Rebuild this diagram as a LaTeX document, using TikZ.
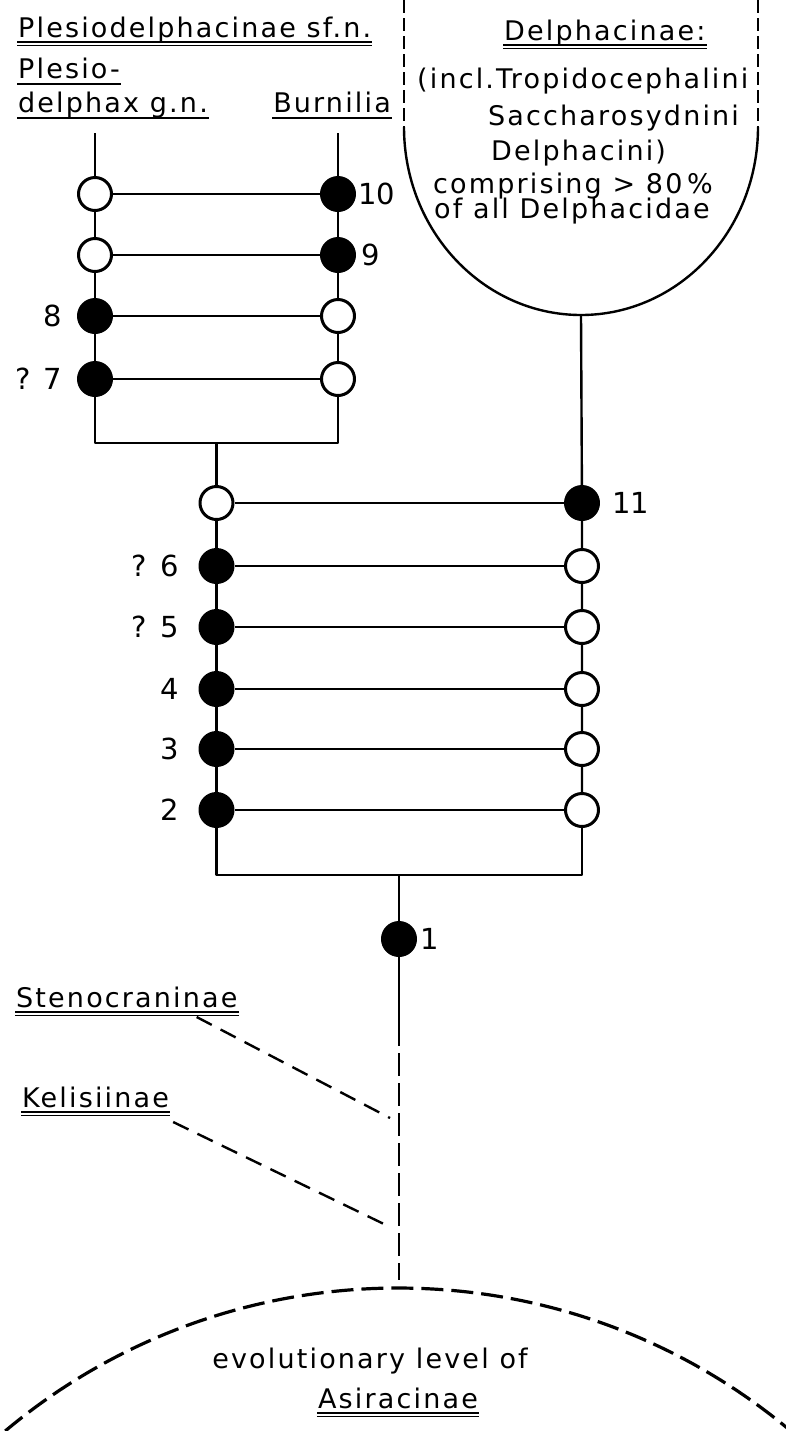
\documentclass[tikz,border=0pt]{standalone}
\usepackage{fontspec}
\setmainfont{DejaVu Sans}[LetterSpace=8]
\newfontfamily\numfont{DejaVu Sans}
\usetikzlibrary{positioning}
\begin{document}
\begin{tikzpicture}[x=0.5pt,y=-0.5pt,line width=1.2pt,line join=round,
	open/.style={circle,draw,line width=1.5pt,fill=white,inner sep=0pt,minimum size=16.5pt},
	full/.style={open,fill=black},
	lbl/.style={inner sep=0pt,anchor=base west,font=\fontsize{13.5}{16}\selectfont},
	num/.style={inner sep=0pt,font=\numfont\fontsize{14.5}{17}\selectfont},
	vdsh/.style={dash pattern=on 6.5pt off 2.5pt},
	sdsh/.style={dash pattern=on 8.5pt off 5pt},
	stdsh/.style={dash pattern=on 11.5pt off 3.5pt},
	adsh/.style={line width=1.6pt,dash pattern=on 11pt off 4pt},
	]
\useasboundingbox (0,0) rectangle (786,1431);
% headings
\node[lbl] (sfam) at (17,37) {Plesiodelphacinae sf.n.};
\node[lbl] (plesio) at (17,78) {Plesio-};
\node[lbl] (delphax) at (17,112) {delphax g.n.};
\node[lbl,anchor=base east] (burn) at (392,112) {Burnilia};
% Delphacinae group
\node[lbl] (delph) at (503,40) {Delphacinae:};
\node[lbl] (incl) at (416,88) {(incl.Tropidocephalini};
\node[lbl] (sacch) at (487,125) {Saccharosydnini};
\node[lbl] (delphi) at (490,160) {Delphacini)};
\node[lbl] (compr) at (432,193) {comprising > 80\,\%};
\node[lbl] (ofall) at (433,218) {of all Delphacidae};
\coordinate (dl) at (404,0);
\coordinate (dr) at (758,0);
\draw[vdsh] (dl) -- (404,127);
\draw[vdsh] (dr) -- (758,127);
\draw (404,127) arc[start angle=180,end angle=0,x radius=177,y radius=188];
\coordinate (dbot) at (581,315);
% upper ladder
\coordinate (pt) at (95,133);
\coordinate (bt) at (338,133);
\foreach \y/\l/\r [count=\i] in {194/open/full,255/open/full,316/full/open,379/full/open}{
	\node[\l] (p\i) at (95,\y) {};
	\node[\r] (b\i) at (338,\y) {};
	\draw (p\i) -- (b\i);
}
\draw (pt) -- (p1) -- (p2) -- (p3) -- (p4);
\draw (bt) -- (b1) -- (b2) -- (b3) -- (b4);
\coordinate (u) at (216.5,443);
\draw (p4) |- (u) -| (b4);
\node[num,right=0.5pt of b1] (t10) {10};
\node[num,right=2pt of b2] (t9) {9};
\node[num,left=7pt of p3] (t8) {8};
\node[num,left=7pt of p4] (t7) {?\hspace{6pt}7};
% lower ladder
\foreach \y/\l/\r [count=\i] in {503/open/full,566/full/open,627/full/open,689/full/open,749/full/open,810/full/open}{
	\node[\l] (q\i) at (216.5,\y) {};
	\node[\r] (r\i) at (582,\y) {};
	\draw (q\i) -- (r\i);
}
\draw (u) -- (q1) -- (q2) -- (q3) -- (q4) -- (q5) -- (q6);
\draw (dbot) -- (r1) -- (r2) -- (r3) -- (r4) -- (r5) -- (r6);
\coordinate (w) at (399,875);
\draw (q6) |- (w) -| (r6);
\node[num,right=5.5pt of r1] (t11) {11};
\foreach \i/\t in {2/{?\hspace{7pt}6},3/{?\hspace{7pt}5},4/4,5/3,6/2}
	\node[num,left=9pt of q\i] (t\i) {\t};
% stem
\node[full] (n1) at (399,939) {};
\node[num,right=1pt of n1] (t1) {1};
\coordinate (s) at (399,1023);
\coordinate (root) at (399,1280);
\draw (w) -- (n1) -- (s);
\draw[stdsh] (s) -- (root);
% side groups
\node[lbl] (steno) at (15,1007) {Stenocraninae};
\node[lbl] (keli) at (21,1107) {Kelisiinae};
\coordinate (sj) at (390,1118);
\coordinate (kj) at (386,1225);
\draw[sdsh] ([shift={(-21pt,-5pt)}]steno.base east) -- (sj);
\draw[sdsh] ([shift={(1.5pt,-7.5pt)}]keli.base east) -- (kj);
% Asiracinae level
\draw[adsh] (398,1899) ++(230:611) arc[start angle=230,end angle=310,radius=611];
\node[lbl,anchor=base] (evo) at (370,1368) {evolutionary level of};
\node[lbl,anchor=base] (asir) at (398,1408) {Asiracinae};
% underlines
\foreach \n in {sfam,delph,steno,keli,asir}{
	\draw[line width=1.1pt] ([yshift=-2.5pt]\n.base west) -- ([yshift=-2.5pt]\n.base east);
	\draw[line width=0.5pt] ([yshift=-4pt]\n.base west) -- ([yshift=-4pt]\n.base east);
}
\foreach \n in {plesio,delphax,burn}
	\draw[line width=0.9pt] ([yshift=-3pt]\n.base west) -- ([yshift=-3pt]\n.base east);
\end{tikzpicture}
\end{document}
